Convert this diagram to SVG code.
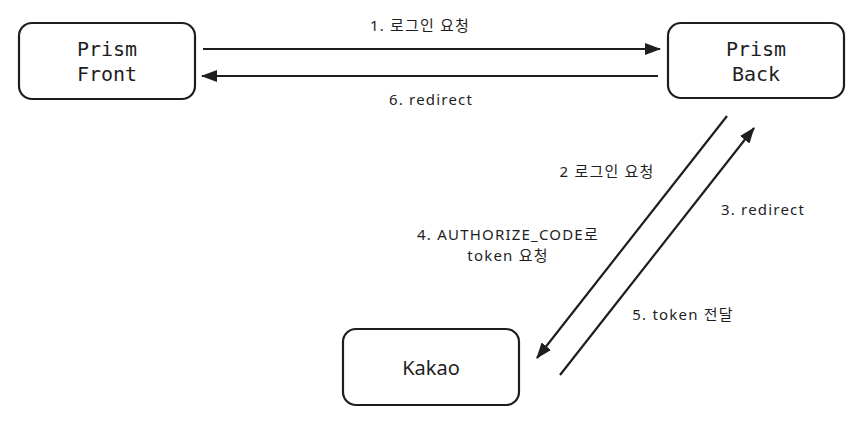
<svg xmlns="http://www.w3.org/2000/svg" width="864" height="423" viewBox="0 0 864 423">
<defs>
<marker id="ah" viewBox="0 0 16 12" refX="15" refY="6" markerWidth="16" markerHeight="12" markerUnits="userSpaceOnUse" orient="auto">
<path d="M0,0 L16,6 L0,12 Z" fill="#1e1e1e"/>
</marker>
<style>
.box{fill:#fff;stroke:#1e1e1e;stroke-width:2.2}
.mono{font-family:"DejaVu Sans Mono","Liberation Mono",monospace;font-size:20px;fill:#1e1e1e;text-anchor:middle}
.hand{font-family:"Noto Sans","Noto Sans CJK KR",sans-serif;font-size:20px;fill:#1e1e1e;text-anchor:middle}
.lbl{font-family:"Noto Sans","Noto Sans CJK KR",sans-serif;font-size:15px;letter-spacing:1.2px;fill:#1e1e1e;text-anchor:middle}
.ln{stroke:#1e1e1e;stroke-width:2.2;fill:none;marker-end:url(#ah)}
</style>
</defs>
<rect width="864" height="423" fill="#fff"/>
<g id="front">
<rect class="box" x="19" y="23" width="176" height="76" rx="13"/>
<text class="mono" x="107" y="56">Prism</text>
<text class="mono" x="107" y="81">Front</text>
</g>
<g id="back">
<rect class="box" x="668" y="23" width="176" height="75" rx="13"/>
<text class="mono" x="756" y="56">Prism</text>
<text class="mono" x="756" y="81">Back</text>
</g>
<g id="kakao">
<rect class="box" x="343" y="329" width="176" height="76" rx="13"/>
<text class="hand" x="431" y="375">Kakao</text>
</g>
<g id="connectors">
<line class="ln" x1="203" y1="49" x2="660" y2="49"/>
<line class="ln" x1="658" y1="76" x2="202" y2="76"/>
<line class="ln" x1="727" y1="116" x2="537" y2="358"/>
<line class="ln" x1="560" y1="375" x2="754" y2="128"/>
</g>
<g id="labels">
<text class="lbl" x="420" y="31">1. 로그인 요청</text>
<text class="lbl" x="431" y="105">6. redirect</text>
<text class="lbl" x="607" y="177">2 로그인 요청</text>
<text class="lbl" x="763" y="215">3. redirect</text>
<text class="lbl" x="508" y="240">4. AUTHORIZE_CODE로</text>
<text class="lbl" x="508" y="261">token 요청</text>
<text class="lbl" x="683" y="320">5. token 전달</text>
</g>
</svg>
